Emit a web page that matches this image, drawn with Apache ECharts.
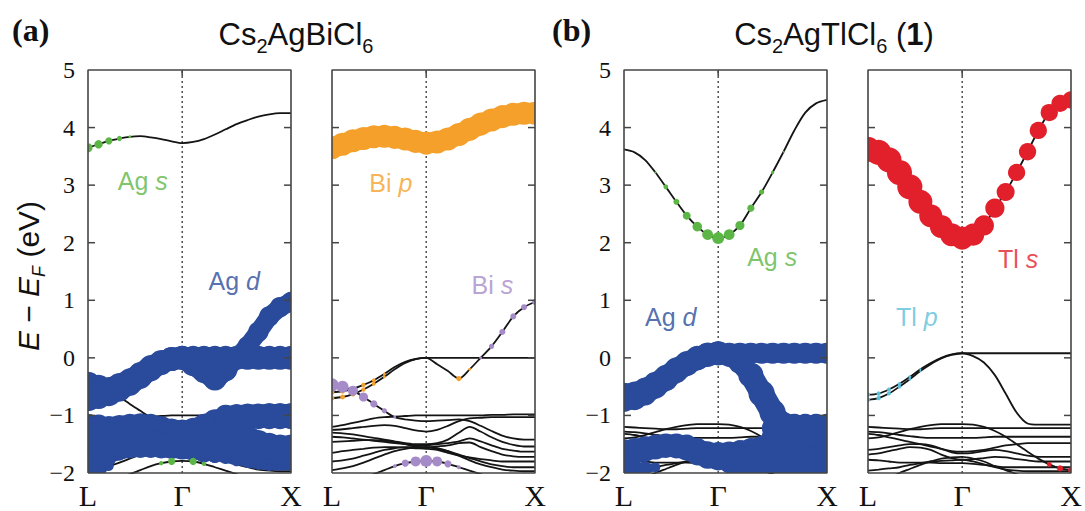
<!DOCTYPE html>
<html>
<head>
<meta charset="utf-8">
<script src="https://cdn.jsdelivr.net/npm/echarts@6/dist/echarts.min.js"></script>
<style>
  html, body { margin: 0; padding: 0; background: #fff; }
  #chart { width: 1085px; height: 511px; }
</style>
</head>
<body>
<div id="chart"></div>
<script>
// k-path L -> Γ -> X (fraction of path length)
const kPath = [0, 0.052, 0.103, 0.155, 0.206, 0.258, 0.309, 0.361, 0.412, 0.464,
               0.518, 0.571, 0.625, 0.678, 0.732, 0.786, 0.839, 0.893, 0.946, 1.0];
const kGamma = 0.464;
const kTickLabels = ['L', 'Γ', 'X'];
const energyMin = -2, energyMax = 5, energyStep = 1;
const energyTicks = [-1, 0, 1, 2, 3, 4];

// ---- Cs2AgBiCl6 bands (eV) ----
const biCB = [3.65,3.71,3.77,3.81,3.84,3.85,3.83,3.80,3.76,3.73, 3.75,3.80,3.88,3.97,4.06,4.13,4.19,4.23,4.25,4.25];
const biV1 = [-0.60,-0.58,-0.54,-0.47,-0.39,-0.28,-0.16,-0.07,-0.02,0.00, 0.00,0.00,0.00,0.00,0.00,0.00,0.00,0.00,0.00,0.00];
const biV2 = [-0.70,-0.68,-0.63,-0.55,-0.45,-0.33,-0.20,-0.09,-0.02,0.00, -0.11,-0.23,-0.36,-0.20,0.00,0.20,0.45,0.72,0.88,0.97];
const biV3 = [-0.47,-0.50,-0.57,-0.68,-0.80,-0.92,-1.03,-1.07,-1.09,-1.10, -1.09,-1.08,-1.07,-1.10,-1.18,-1.27,-1.35,-1.40,-1.42,-1.42];
const biL1 = [-1.20,-1.17,-1.13,-1.09,-1.05,-1.03,-1.02,-1.01,-1.00,-1.00, -1.00,-1.00,-1.00,-1.00,-1.00,-0.99,-0.99,-0.98,-0.98,-0.98];
const biL2 = [-1.25,-1.24,-1.22,-1.20,-1.18,-1.17,-1.18,-1.22,-1.26,-1.28, -1.25,-1.18,-1.10,-1.05,-1.04,-1.03,-1.03,-1.03,-1.03,-1.03];
const biL3 = [-1.30,-1.31,-1.33,-1.36,-1.39,-1.42,-1.45,-1.48,-1.50,-1.50, -1.48,-1.42,-1.30,-1.20,-1.28,-1.38,-1.46,-1.51,-1.54,-1.54];
const biL4 = [-1.37,-1.38,-1.40,-1.42,-1.44,-1.46,-1.48,-1.50,-1.52,-1.52, -1.50,-1.48,-1.45,-1.40,-1.45,-1.52,-1.58,-1.61,-1.63,-1.63];
const biL5 = [-1.46,-1.45,-1.44,-1.43,-1.43,-1.44,-1.46,-1.50,-1.54,-1.56, -1.54,-1.52,-1.48,-1.47,-1.55,-1.62,-1.68,-1.71,-1.72,-1.72];
const biL6 = [-1.65,-1.62,-1.60,-1.58,-1.56,-1.55,-1.55,-1.56,-1.57,-1.58, -1.60,-1.65,-1.70,-1.73,-1.76,-1.78,-1.80,-1.80,-1.80,-1.80];
const biL7 = [-1.80,-1.78,-1.75,-1.70,-1.65,-1.60,-1.57,-1.55,-1.55,-1.55, -1.58,-1.62,-1.68,-1.74,-1.80,-1.85,-1.88,-1.90,-1.90,-1.90];
const biL8 = [-1.95,-1.92,-1.88,-1.82,-1.75,-1.68,-1.62,-1.58,-1.56,-1.55, -1.57,-1.62,-1.70,-1.78,-1.85,-1.90,-1.94,-1.96,-1.97,-1.97];
const biL9 = [-2.30,-2.25,-2.18,-2.10,-2.02,-1.95,-1.88,-1.83,-1.80,-1.79, -1.80,-1.84,-1.90,-1.96,-2.02,-2.08,-2.12,-2.15,-2.16,-2.16];
const biBands = [biCB, biV1, biV2, biV3, biL1, biL2, biL3, biL4, biL5, biL6, biL7, biL8, biL9];

// ---- Cs2AgTlCl6 bands (eV) ----
const tlCB = [3.62,3.57,3.44,3.22,2.97,2.71,2.47,2.28,2.14,2.08, 2.14,2.30,2.60,2.88,3.22,3.58,3.95,4.26,4.42,4.48];
const tlV1 = [-0.64,-0.62,-0.55,-0.45,-0.33,-0.20,-0.09,0.00,0.06,0.08, 0.08,0.08,0.08,0.08,0.08,0.08,0.08,0.08,0.08,0.08];
const tlV2 = [-0.73,-0.70,-0.62,-0.50,-0.37,-0.23,-0.11,-0.01,0.05,0.08, 0.03,-0.08,-0.30,-0.62,-0.95,-1.14,-1.16,-1.16,-1.16,-1.16];
const tlL1 = [-1.40,-1.38,-1.34,-1.29,-1.24,-1.20,-1.17,-1.15,-1.15,-1.15, -1.16,-1.20,-1.27,-1.37,-1.50,-1.63,-1.75,-1.85,-1.92,-1.95];
const tlL2 = [-1.20,-1.21,-1.22,-1.23,-1.24,-1.24,-1.23,-1.22,-1.22,-1.22, -1.22,-1.22,-1.22,-1.22,-1.22,-1.22,-1.22,-1.22,-1.22,-1.22];
const tlL3 = [-1.28,-1.29,-1.31,-1.34,-1.36,-1.38,-1.39,-1.39,-1.39,-1.39, -1.39,-1.38,-1.37,-1.37,-1.37,-1.37,-1.37,-1.37,-1.37,-1.37];
const tlL4 = [-1.32,-1.34,-1.38,-1.42,-1.46,-1.50,-1.54,-1.58,-1.62,-1.63, -1.62,-1.60,-1.56,-1.52,-1.50,-1.48,-1.48,-1.48,-1.48,-1.48];
const tlL5 = [-1.60,-1.58,-1.55,-1.52,-1.50,-1.50,-1.52,-1.58,-1.64,-1.66, -1.65,-1.62,-1.60,-1.62,-1.66,-1.70,-1.72,-1.72,-1.72,-1.72];
const tlL6 = [-1.68,-1.66,-1.62,-1.58,-1.55,-1.56,-1.60,-1.68,-1.74,-1.77, -1.76,-1.74,-1.72,-1.73,-1.76,-1.78,-1.80,-1.80,-1.80,-1.80];
const tlL7 = [-1.77,-1.78,-1.80,-1.82,-1.82,-1.82,-1.82,-1.83,-1.83,-1.83, -1.84,-1.86,-1.88,-1.90,-1.90,-1.90,-1.90,-1.90,-1.90,-1.90];
const tlL8 = [-1.96,-1.94,-1.92,-1.90,-1.86,-1.83,-1.80,-1.79,-1.78,-1.77, -1.80,-1.85,-1.90,-1.94,-1.96,-1.97,-1.97,-1.97,-1.97,-1.97];
const tlL9 = [-2.20,-2.15,-2.08,-2.00,-1.93,-1.86,-1.80,-1.75,-1.73,-1.72, -1.75,-1.80,-1.88,-1.95,-2.02,-2.08,-2.12,-2.15,-2.16,-2.16];
const tlBands = [tlCB, tlV1, tlV2, tlL1, tlL2, tlL3, tlL4, tlL5, tlL6, tlL7, tlL8, tlL9];

// ---- orbital weights (relative) ----
// Cs2AgBiCl6, Ag s
const wBiAgS_CB = [0.38,0.35,0.30,0.22,0.12,0,0,0,0,0, 0,0,0,0,0,0,0,0,0,0];
const wBiAgS_L9 = [0,0,0,0,0,0,0,0.18,0.30,0, 0.30,0.18,0,0,0,0,0,0,0,0];
// Cs2AgBiCl6, Ag d
const wBiAgD_V1 = [1,1,1,1,1,1,1,1,1,1, 1,1,1,1,1,1,1,1,1,1];
const wBiAgD_V2 = [1.1,1,1,1,1,1,1,1,1,1, 1,1,1,1,0.9,0.85,0.85,0.85,0.85,0.85];
const wBiAgD_V3 = [1.1,1,0.7,0.35,0,0,0,0,0,0, 0,0,0,0,0,0,0,0,0,0];
const wBiAgD_L1 = [1.1,0.9,0,0,0,0,0,0,0,0, 0,0,0,0.9,0.95,0.95,0.95,0.95,0.95,0.95];
const wBiAgD_L2 = [1,1,1,1,1,1,1,1,1,1, 1,1,1,1,1,1,1,1,1,1];
const wBiAgD_L3 = [1,1,1,1,1,1,1,1,1,1, 1,1,1,1,1,1,1,1,1,1];
const wBiAgD_L4 = [1,1,1,1,1,1,1,1,1,1, 1,1,1,1,1,1,1,1,1,1];
const wBiAgD_L5 = [0.95,0.95,0.95,0.95,0.95,0.95,0.95,0.95,0.95,0.95, 0.95,0.95,0.95,0.95,0.95,0.95,0.95,0.95,0.95,0.95];
const wBiAgD_L6 = [0.9,0.9,0.9,0.9,0.9,0.9,0.9,0.9,0.9,0.9, 0.9,0.8,0.6,0.4,0.3,0.3,0.3,0.3,0.3,0.3];
const wBiAgD_L7 = [0.9,0.8,0.6,0.4,0.4,0.5,0.7,0.9,0.9,0.9, 0.9,0.8,0.7,0.5,0.4,0.3,0.3,0.3,0.3,0.3];
const wBiAgD_L8 = [0.9,0.7,0.4,0,0,0,0,0,0,0, 0,0,0,0,0,0,0,0,0,0];
// Cs2AgBiCl6, Bi p
const wBiBiP_CB = [0.96,0.96,0.96,0.96,0.96,0.96,0.96,0.96,0.96,0.96, 0.96,0.96,0.96,0.96,0.96,0.96,0.96,0.96,0.96,0.96];
const wBiBiP_V1 = [0.2,0.2,0.2,0.18,0.16,0.12,0,0,0,0, 0,0,0,0,0,0,0,0,0,0];
const wBiBiP_V2 = [0.2,0.2,0.2,0.18,0.16,0.12,0,0,0,0, 0,0,0.22,0.12,0,0,0,0,0,0];
// Cs2AgBiCl6, Bi s
const wBiBiS_V3 = [0.55,0.5,0.42,0.38,0.3,0.22,0.12,0,0,0, 0,0,0,0,0,0,0,0,0,0];
const wBiBiS_V2 = [0,0,0,0,0,0,0,0,0,0, 0,0,0,0,0.12,0.22,0.25,0.25,0.25,0.25];
const wBiBiS_L9 = [0,0,0,0,0,0,0.16,0.3,0.42,0.5, 0.42,0.3,0.16,0,0,0,0,0,0,0];

// Cs2AgTlCl6, Ag s
const wTlAgS_CB = [0,0,0,0.1,0.2,0.25,0.33,0.4,0.45,0.5, 0.45,0.38,0.3,0.22,0.14,0.08,0,0,0,0];
// Cs2AgTlCl6, Ag d
const wTlAgD_V1 = [1,1,1,1,1,1,1,1,1,1, 0.88,0.88,0.88,0.88,0.88,0.88,0.88,0.88,0.88,0.88];
const wTlAgD_V2 = [1,1,1,1,1,1,1,1,1,1, 0.9,0.95,1.05,1.1,1.1,0.95,0.9,0.9,0.9,0.9];
const wTlAgD_L1 = [0,0,0,0,0,0,0,0,0,0, 0,0,0,0,0.9,0.9,0.9,0.9,0.9,0.9];
const wTlAgD_L2 = [0,0,0,0,0,0,0,0,0,0, 0,0,0,0,0.9,0.9,0.9,0.9,0.9,0.9];
const wTlAgD_L3 = [0,0,0,0,0,0,0,0,0,0, 0,0,0,0,0.9,0.9,0.9,0.9,0.9,0.9];
const wTlAgD_L4 = [0,0,0,0.3,0.5,0.7,0.8,0.8,0.8,0.8, 0.8,0.8,0.8,0.8,0.8,0.8,0.8,0.8,0.8,0.8];
const wTlAgD_L5 = [0.9,0.9,0.9,0.9,0.9,0.9,0.9,0.9,0.9,0.9, 0.9,0.9,0.9,0.9,0.9,0.9,0.9,0.9,0.9,0.9];
const wTlAgD_L6 = [0.9,0.9,0.9,0.9,0.9,0.9,0.9,0.9,0.9,0.9, 0.9,0.9,0.9,0.9,0.9,0.9,0.9,0.9,0.9,0.9];
const wTlAgD_L7 = [0,0,0,0,0,0,0,0,0,0, 0.8,0.8,0.8,0.8,0.8,0.8,0.8,0.8,0.8,0.8];
const wTlAgD_L8 = [0.7,0.7,0.6,0.4,0,0,0,0,0,0, 0,0,0,0,0,0,0,0,0,0];
// Cs2AgTlCl6, Tl s
const wTlTlS_CB = [1.05,1.05,1.05,1.05,1.05,1,0.96,0.96,0.96,0.96, 0.92,0.84,0.8,0.75,0.72,0.72,0.72,0.72,0.72,0.72];
const wTlTlS_L1 = [0,0,0,0,0,0,0,0,0,0, 0,0,0,0,0,0,0,0.2,0.25,0.25];
// Cs2AgTlCl6, Tl p
const wTlTlP_V1 = [0.18,0.18,0.17,0.15,0.12,0.08,0,0,0,0, 0,0,0,0,0,0,0,0,0,0];
const wTlTlP_V2 = [0.18,0.18,0.17,0.15,0.12,0.08,0,0,0,0, 0,0,0,0,0,0,0,0,0,0];

// ---- styling ----
const MARK_D = 24;            // marker diameter for weight 1
const TUBE = 0.9;             // tube width relative to marker diameter
const SERIF = 'Liberation Serif';
const SANS = 'Liberation Sans';
const FRAME_COLOR = '#454545';
const C = {
  agS: '#5CB646', agD: '#2A4B9B', biP: '#F5A02A', biS: '#A68BC9',
  tlS: '#E2202B', tlP: '#5BBFD8', band: '#141414'
};

// panel layout: left edge of each frame
const panelLeft = [88, 332, 624, 868];
const PANEL_TOP = 70, PANEL_W = 203, PANEL_H = 403;
const TICK_PX = 7, TOP_TICK_PX = 6;

// per-panel content: [band, weights, colour, draw as continuous tube]
const panels = [
  { bands: biBands, yLabels: true,
    proj: [
      [biL2, wBiAgD_L2, C.agD, true], [biL3, wBiAgD_L3, C.agD, true], [biL4, wBiAgD_L4, C.agD, true],
      [biL5, wBiAgD_L5, C.agD, true], [biL6, wBiAgD_L6, C.agD, true], [biL7, wBiAgD_L7, C.agD, true],
      [biL8, wBiAgD_L8, C.agD, true], [biL1, wBiAgD_L1, C.agD, true], [biV3, wBiAgD_V3, C.agD, true],
      [biV2, wBiAgD_V2, C.agD, true], [biV1, wBiAgD_V1, C.agD, true],
      [biCB, wBiAgS_CB, C.agS, false], [biL9, wBiAgS_L9, C.agS, false]
    ],
    tags: [
      { k: 0.27, e: 3.07, t: '{n|Ag }{i|s}', c: C.agS },
      { k: 0.72, e: 1.34, t: '{n|Ag }{i|d}', c: C.agD }
    ] },
  { bands: biBands, yLabels: false,
    proj: [
      [biCB, wBiBiP_CB, C.biP, true], [biV1, wBiBiP_V1, C.biP, false], [biV2, wBiBiP_V2, C.biP, false],
      [biV3, wBiBiS_V3, C.biS, false], [biV2, wBiBiS_V2, C.biS, false], [biL9, wBiBiS_L9, C.biS, false]
    ],
    tags: [
      { k: 0.29, e: 3.04, t: '{n|Bi }{i|p}', c: C.biP },
      { k: 0.79, e: 1.27, t: '{n|Bi }{i|s}', c: C.biS }
    ] },
  { bands: tlBands, yLabels: true,
    proj: [
      [tlL8, wTlAgD_L8, C.agD, true],
      [tlL4, wTlAgD_L4, C.agD, true], [tlL5, wTlAgD_L5, C.agD, true], [tlL6, wTlAgD_L6, C.agD, true],
      [tlL7, wTlAgD_L7, C.agD, true], [tlL1, wTlAgD_L1, C.agD, true], [tlL2, wTlAgD_L2, C.agD, true],
      [tlL3, wTlAgD_L3, C.agD, true], [tlV1, wTlAgD_V1, C.agD, true], [tlV2, wTlAgD_V2, C.agD, true],
      [tlCB, wTlAgS_CB, C.agS, false]
    ],
    tags: [
      { k: 0.73, e: 1.75, t: '{n|Ag }{i|s}', c: C.agS },
      { k: 0.23, e: 0.71, t: '{n|Ag }{i|d}', c: C.agD }
    ] },
  { bands: tlBands, yLabels: false,
    proj: [
      [tlCB, wTlTlS_CB, C.tlS, false], [tlL1, wTlTlS_L1, C.tlS, false],
      [tlV1, wTlTlP_V1, C.tlP, false], [tlV2, wTlTlP_V2, C.tlP, false]
    ],
    tags: [
      { k: 0.74, e: 1.72, t: '{n|Tl }{i|s}', c: C.tlS },
      { k: 0.24, e: 0.71, t: '{n|Tl }{i|p}', c: C.tlP }
    ] }
];

const grid = [], xAxis = [], yAxis = [], series = [];

// orbital-weight markers: circle at each k-point, optional tube to the next one
function weightRenderer(col, tube) {
  return (params, api) => {
    const w = api.value(2), wn = api.value(5);
    const a = api.coord([api.value(0), api.value(1)]);
    const kids = [];
    if (tube && Math.min(w, wn) > 0) {
      const b = api.coord([api.value(3), api.value(4)]);
      kids.push({
        type: 'line', shape: { x1: a[0], y1: a[1], x2: b[0], y2: b[1] },
        style: { stroke: col, lineWidth: Math.min(w, wn) * MARK_D * TUBE, lineCap: 'round' }
      });
    }
    if (w > 0) {
      kids.push({ type: 'circle', shape: { cx: a[0], cy: a[1], r: w * MARK_D / 2 }, style: { fill: col } });
    }
    return { type: 'group', children: kids };
  };
}

// plain polyline in a panel's coordinates (frame edges, ticks)
function framePiece(i, pts, width) {
  return {
    type: 'line', xAxisIndex: i, yAxisIndex: i, silent: true, symbol: 'none', z: 10,
    clip: false, data: pts,
    lineStyle: { color: FRAME_COLOR, width: width }
  };
}

panels.forEach((p, i) => {
  grid.push({ left: panelLeft[i], top: PANEL_TOP, width: PANEL_W, height: PANEL_H });
  xAxis.push({
    gridIndex: i, type: 'value', min: 0, max: 1, position: 'bottom',
    axisLine: { show: false }, axisTick: { show: false }, splitLine: { show: false },
    axisLabel: {
      customValues: [0, kGamma, 1], showMinLabel: true, showMaxLabel: true,
      formatter: v => (v === 0 ? kTickLabels[0] : v === 1 ? kTickLabels[2] : kTickLabels[1]),
      fontFamily: SERIF, fontSize: 30, color: '#111', margin: 7
    }
  });
  yAxis.push({
    gridIndex: i, type: 'value', min: energyMin, max: energyMax, interval: energyStep,
    position: 'left',
    axisLine: { show: false }, axisTick: { show: false }, splitLine: { show: false },
    axisLabel: {
      show: p.yLabels, fontFamily: SERIF, fontSize: 24, color: '#111', margin: 13,
      formatter: v => (v < 0 ? '\u2212' + (-v) : String(v))
    }
  });

  // dotted guide at Γ
  series.push({
    type: 'line', xAxisIndex: i, yAxisIndex: i, silent: true, symbol: 'none', z: 1,
    data: [[kGamma, energyMin], [kGamma, energyMax]],
    lineStyle: { color: '#333', width: 1.3, type: [2, 3] }
  });
  // band lines
  p.bands.forEach(b => {
    series.push({
      type: 'line', xAxisIndex: i, yAxisIndex: i, silent: true, symbol: 'none', z: 2,
      smooth: 0.3, clip: true,
      data: kPath.map((k, j) => [k, b[j]]),
      lineStyle: { color: C.band, width: 1.8 }
    });
  });
  // orbital-projected weights
  p.proj.forEach(([b, w, col, tube]) => {
    const last = kPath.length - 1;
    const items = kPath.map((k, j) => {
      const n = Math.min(j + 1, last);
      return [k, b[j], w[j], kPath[n], b[n], j === last ? 0 : w[n]];
    }).filter(d => d[2] > 0 || d[5] > 0);
    series.push({
      type: 'custom', xAxisIndex: i, yAxisIndex: i, silent: true, clip: true, z: 3,
      data: items, encode: { x: 0, y: 1 },
      renderItem: weightRenderer(col, tube)
    });
  });
  // orbital tags
  p.tags.forEach(t => {
    series.push({
      type: 'scatter', xAxisIndex: i, yAxisIndex: i, silent: true, symbolSize: 1, z: 4,
      itemStyle: { color: 'rgba(0,0,0,0)' },
      data: [[t.k, t.e]],
      label: {
        show: true, position: 'inside', formatter: t.t,
        rich: {
          n: { fontFamily: SANS, fontSize: 25, color: t.c },
          i: { fontFamily: SANS, fontSize: 25, fontStyle: 'italic', color: t.c }
        }
      }
    });
  });
  // frame
  series.push(framePiece(i, [[0, energyMin], [0, energyMax], [1, energyMax], [1, energyMin], [0, energyMin]], 1.6));
  // inward ticks on both sides and at Γ on top
  const dk = TICK_PX / PANEL_W;
  const de = TOP_TICK_PX / PANEL_H * (energyMax - energyMin);
  energyTicks.forEach(e => {
    series.push(framePiece(i, [[0, e], [dk, e]], 1.5));
    series.push(framePiece(i, [[1 - dk, e], [1, e]], 1.5));
  });
  series.push(framePiece(i, [[kGamma, energyMax], [kGamma, energyMax - de]], 1.5));
});

function titleRich() {
  return {
    m: { fontFamily: SANS, fontSize: 31, lineHeight: 44, verticalAlign: 'middle', fill: '#111' },
    s: { fontFamily: SANS, fontSize: 20, lineHeight: 20, verticalAlign: 'bottom', fill: '#111' },
    b: { fontFamily: SANS, fontSize: 31, lineHeight: 44, verticalAlign: 'middle', fontWeight: 'bold', fill: '#111' }
  };
}

const graphic = [
  { type: 'text', left: 12, top: 14,
    style: { text: '(a)', fontFamily: SERIF, fontWeight: 'bold', fontSize: 32, fill: '#111' } },
  { type: 'text', left: 552, top: 14,
    style: { text: '(b)', fontFamily: SERIF, fontWeight: 'bold', fontSize: 32, fill: '#111' } },
  { type: 'text', x: 296, y: 34,
    style: { text: '{m|Cs}{s|2}{m|AgBiCl}{s|6}', rich: titleRich(), align: 'center', verticalAlign: 'middle' } },
  { type: 'text', x: 834, y: 34,
    style: { text: '{m|Cs}{s|2}{m|AgTlCl}{s|6}{m| (}{b|1}{m|)}', rich: titleRich(), align: 'center', verticalAlign: 'middle' } },
  { type: 'text', x: 28, y: 276, rotation: Math.PI / 2,
    style: {
      text: '{i|E}{m| \u2212 }{i|E}{s|F}{m| (eV)}', align: 'center', verticalAlign: 'middle',
      rich: {
        m: { fontFamily: SANS, fontSize: 30, lineHeight: 40, verticalAlign: 'middle', fill: '#111' },
        i: { fontFamily: SANS, fontSize: 30, lineHeight: 40, verticalAlign: 'middle', fontStyle: 'italic', fill: '#111' },
        s: { fontFamily: SANS, fontSize: 18, lineHeight: 18, verticalAlign: 'bottom', fontStyle: 'italic', fill: '#111' }
      }
    } }
];

// SVG output keeps every element in one synchronous pass
const chart = echarts.init(document.getElementById('chart'), null, { renderer: 'svg' });
chart.setOption({
  animation: false,
  backgroundColor: '#fff',
  grid, xAxis, yAxis, series, graphic
});
</script>
</body>
</html>
